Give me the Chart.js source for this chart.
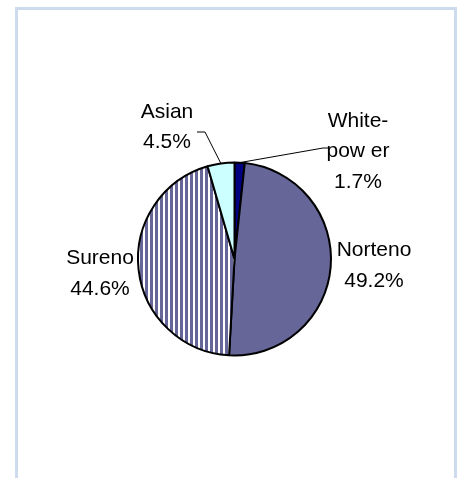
<!DOCTYPE html>
<html>
<head>
<meta charset="utf-8">
<script src="https://cdn.jsdelivr.net/npm/chart.js@4.4.1/dist/chart.umd.min.js"></script>
<style>
  html, body { margin: 0; padding: 0; background: #fff; }
  #wrap { position: relative; width: 458px; height: 478px; overflow: hidden; }
  #frame {
    position: absolute; left: 15px; top: 7px; width: 436px; height: 500px;
    border: 3px solid #cddbee; box-sizing: content-box;
  }
  canvas { position: absolute; left: 0; top: 0; }
</style>
</head>
<body>
<div id="wrap">
  <div id="frame"></div>
  <canvas id="gangChart" width="458" height="478"></canvas>
</div>
<script>
// slices, clockwise from 12 o'clock
const categories = ["White-power", "Norteno", "Sureno", "Asian"];
const labelLines = [["White-", "pow er"], ["Norteno"], ["Sureno"], ["Asian"]];
const shares = [1.7, 49.2, 44.6, 4.5];

// label block centre, relative to the pie centre (px)
const labelOffsets = [[123.5, -107.5], [139.5, 6.5], [-134.5, 14.5], [-67.5, -132]];
// leader lines: elbow point and end point, relative to pie centre (null = none)
const leaders = [
  [[88.5, -111], [93.5, -111]],
  null,
  null,
  [[-29.5, -127], [-37.5, -127]]
];

function stripePattern() {
  const c = document.createElement('canvas');
  c.width = 5;
  c.height = 4;
  const g = c.getContext('2d');
  g.fillStyle = '#ffffff';
  g.fillRect(0, 0, 5, 4);
  g.fillStyle = '#666699';
  g.fillRect(0, 0, 3, 4);
  return g.createPattern(c, 'repeat');
}

const ctx = document.getElementById('gangChart').getContext('2d');
const sliceColors = ['#000080', '#666699', stripePattern(), '#ccffff'];

const pieLabels = {
  id: 'pieLabels',
  afterDatasetsDraw(chart) {
    const c = chart.ctx;
    const arcs = chart.getDatasetMeta(0).data;
    c.save();
    c.font = '21px "Liberation Sans", Arial, sans-serif';
    c.fillStyle = '#000';
    c.textAlign = 'center';
    c.textBaseline = 'middle';
    const lineH = 30.5;
    arcs.forEach((arc, i) => {
      const cx = arc.x, cy = arc.y;
      const lines = labelLines[i].concat([shares[i].toFixed(1) + '%']);
      const bx = cx + labelOffsets[i][0];
      const by = cy + labelOffsets[i][1];
      const top = by - (lines.length - 1) * lineH / 2;
      lines.forEach((t, k) => c.fillText(t, bx, top + k * lineH));

      const ld = leaders[i];
      if (ld) {
        const mid = (arc.startAngle + arc.endAngle) / 2;
        const r = arc.outerRadius;
        c.beginPath();
        c.strokeStyle = '#000';
        c.lineWidth = 1;
        c.moveTo(cx + Math.cos(mid) * r, cy + Math.sin(mid) * r);
        c.lineTo(cx + ld[0][0], cy + ld[0][1]);
        c.lineTo(cx + ld[1][0], cy + ld[1][1]);
        c.stroke();
      }
    });
    c.restore();
  }
};

new Chart(ctx, {
  type: 'pie',
  data: {
    labels: categories,
    datasets: [{
      data: shares,
      backgroundColor: sliceColors,
      borderColor: '#000000',
      borderWidth: 2
    }]
  },
  options: {
    responsive: false,
    animation: false,
    layout: {
      padding: { left: 137, right: 126, top: 161.5, bottom: 121.5 }
    },
    plugins: {
      legend: { display: false },
      tooltip: { enabled: false }
    }
  },
  plugins: [pieLabels]
});
</script>
</body>
</html>
